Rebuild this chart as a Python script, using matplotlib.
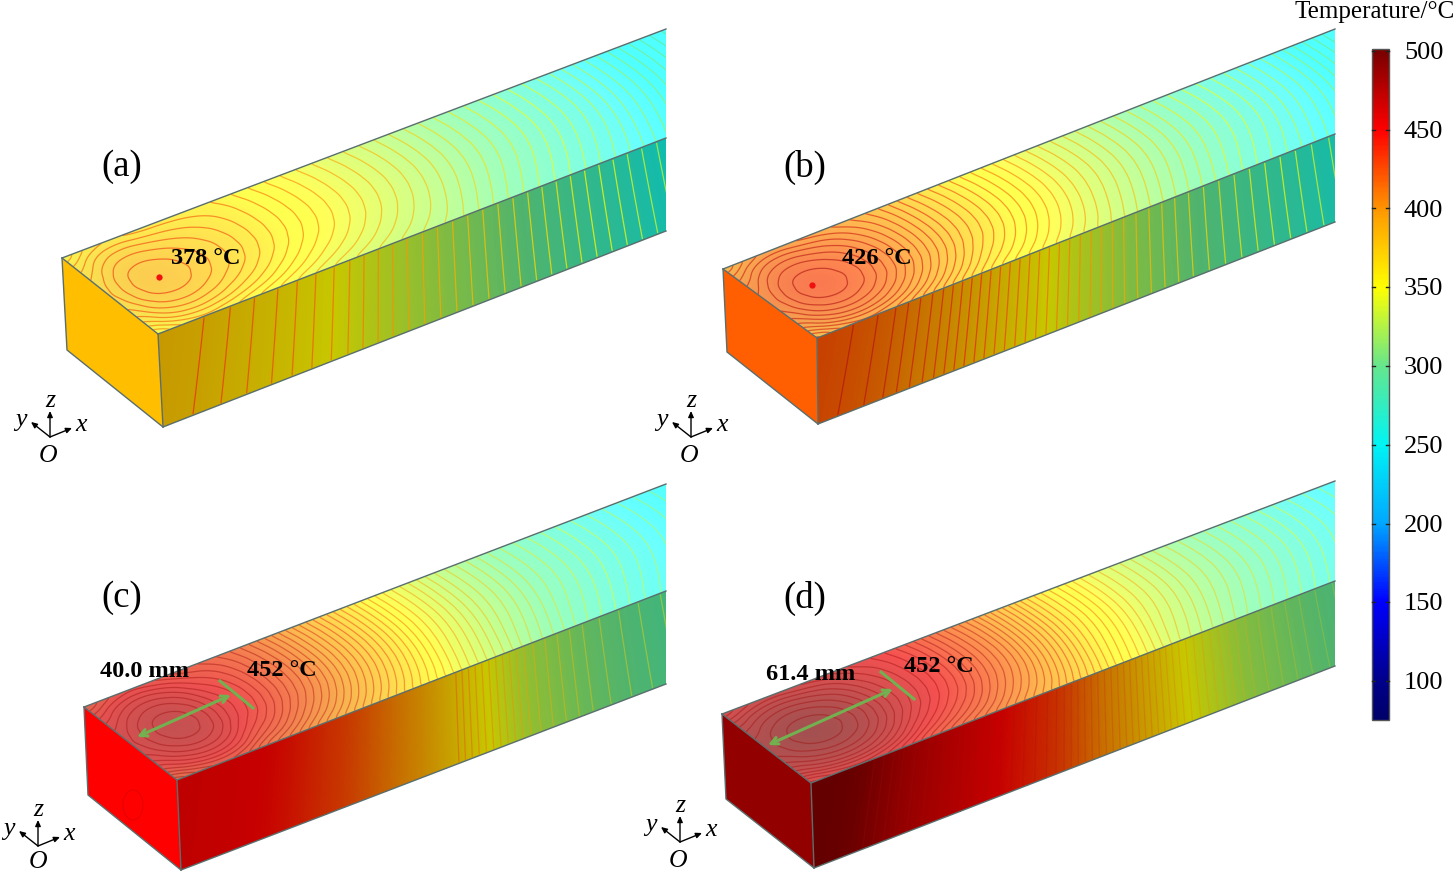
import numpy as np
import matplotlib
matplotlib.use("Agg")
import matplotlib.pyplot as plt
from matplotlib.colors import LinearSegmentedColormap, Normalize
from matplotlib.patches import Ellipse, Polygon, Rectangle

plt.rcParams["font.family"] = ["Liberation Serif", "DejaVu Serif"]

# colour scale of the legend bar
SCALE_T = [75, 100, 150, 200, 250, 300, 350, 400, 450, 500, 505]
SCALE_COLORS = ["#00006a", "#00008c", "#0000ff", "#00a8ff", "#00f4f4", "#66e68c",
                "#ffff00", "#ff9600", "#ff0000", "#7a0000", "#700000"]
LINE_COLORS = ["#00006a", "#00008c", "#0000ff", "#00a8ff", "#00f4f4", "#66e68c",
               "#ffff00", "#ff9600", "#e82010", "#a01010", "#a01010"]
BAR_TICKS = [100, 150, 200, 250, 300, 350, 400, 450, 500]

# temperature along the block centre line
U_STATIONS = [0, .04, .08, .12, .16, .2, .3, .4, .5, .6, .7, .8, .9, 1]
T_A = [364, 375, 378, 375.5, 371, 366, 351, 335, 319, 302, 286, 269, 248, 225]
T_B = [410, 422, 426, 423, 416, 406, 378, 354, 331, 311, 292, 275, 255, 230]
T_C = [458, 468, 472, 468, 456, 448, 420, 385, 350, 322, 300, 283, 268, 253]
T_D = [482, 490, 493, 490, 482, 470, 446, 412, 370, 338, 315, 296, 278, 262]

# temperature along the side face
SIDE_A = [378, 376, 374, 370, 366, 362, 349, 332, 316, 300, 283, 266, 250, 234]
SIDE_B = [422, 420, 416, 412, 404, 396, 370, 345, 322, 303, 287, 271, 257, 243]
SIDE_C = [455, 453, 452, 451, 449, 443, 424, 398, 360, 326, 307, 295, 285, 275]
SIDE_D = [497, 497, 495, 485, 475, 468, 452, 430, 393, 352, 322, 304, 290, 278]

# drop of excess temperature across the top face, back edge to front edge
V_STATIONS = [0, .125, .25, .375, .5, .625, .75, .875, 1]
BACK_DROP = [.055, .031, .014, .0034, 0, 0, 0, 0, 0]
FRONT_DROP_NEAR = [0, 0, 0, 0, 0, .0044, .0175, .039, .07]
FRONT_DROP_FAR = [0, 0, .001, .003, .007, .013, .021, .03, .04]
# how much of each drop applies along the block
FADE_U = [0, .12, .25, .3, .5, .6, 1]
BACK_FADE = [1, 1, .25, .22, .15, .12, .12]
NEAR_FADE = [1, 1, .6, .4, 0, 0, 0]
FAR_FADE = [0, 0, .7, 1, 1, 1, 1]
LEAN = [-.03, .03]
AMBIENT = 20

# block outlines in pixels: back left, front left, back right, front right at crop,
# bottom front, bottom right at crop, bottom left
CORNERS_A = [(62, 258), (158, 334), (666, 29), (666, 138), (163, 427), (666, 231), (67, 350)]
CORNERS_B = [(723, 269), (817, 338), (1335, 29), (1335, 134), (818, 424), (1335, 222), (727, 352)]
CORNERS_C = [(84, 707), (177, 780), (666, 484), (666, 591), (181, 870), (666, 684), (88, 795)]
CORNERS_D = [(722, 714), (811, 783), (1335, 481), (1335, 581), (814, 868), (1335, 666), (726, 799)]

FRONT_T = [380, 418, 450, 490]
LEVEL_STEP = [4, 4, 4, 4]
SIDE_LEVEL_MAX = [999, 999, 372, 999]
COLOR_BIAS = [6, 4, 0, 0]
TOP_GAIN_NEAR = [.66, .65, .57, .57]
TOP_LINE_ALPHA = [.6, .6, .45, .45]
SIDE_LINE_ALPHA = [.75, .7, .4, .22]

PANEL_LABELS = ["(a)", "(b)", "(c)", "(d)"]
PANEL_LABEL_POS = [(101, 167), (783, 167), (101, 598), (783, 598)]
NOTES = ["378 °C", "426 °C", "40.0 mm", "452 °C", "61.4 mm", "452 °C"]
NOTE_POS = [(171, 258), (842, 258), (100, 671), (247, 670), (766, 674), (904, 666)]
HOT_POINTS = [(159, 277), (812, 285)]

ARROWS = [((137, 737), (231, 695)), ((768, 745), (893, 689))]
BARS = [((220, 681), (253, 708)), ((881, 672), (914, 699))]

AXIS_ORIGINS = [(50, 437), (691, 437), (38, 846), (680, 842)]
AXIS_O_POS = [(48, 456), (689, 456), (38, 862), (678, 861)]

cmap = LinearSegmentedColormap.from_list(
    "temp", [((t - SCALE_T[0]) / (SCALE_T[-1] - SCALE_T[0]), c) for t, c in zip(SCALE_T, SCALE_COLORS)], N=512)
line_cmap = LinearSegmentedColormap.from_list(
    "temp_lines", [((t - SCALE_T[0]) / (SCALE_T[-1] - SCALE_T[0]), c) for t, c in zip(SCALE_T, LINE_COLORS)], N=512)
norm = Normalize(SCALE_T[0], SCALE_T[-1])
# contour lines take the colour about 70 degrees hotter than the surface
line_norm = Normalize(SCALE_T[0] - 70, SCALE_T[-1] - 70)

fig = plt.figure(figsize=(14.54, 8.72), dpi=100)
ax = fig.add_axes([0, 0, 1, 1])
ax.set_xlim(0, 1454)
ax.set_ylim(872, 0)
ax.axis("off")


def smooth_table(x, xp, fp, window=.04):
    # table lookup with a short moving average, so the contours have no kinks
    fine_x = np.linspace(xp[0], xp[-1], 1001)
    fine_y = np.interp(fine_x, xp, fp)
    n = int(window / (fine_x[1] - fine_x[0])) | 1
    pad = np.pad(fine_y, n // 2, mode="edge")
    smooth = np.convolve(pad, np.ones(n) / n, mode="valid")
    return np.interp(x, fine_x, smooth)


def draw_block(i, corners, temps, side_temps):
    p = np.array(corners, dtype=float)
    back_l, front_l, back_r, front_r, bot_f, bot_r, bot_l = p
    crop_x = back_r[0]

    # the block runs on past the crop, so extend the front edges to the same span
    span = back_r[0] - back_l[0]
    front_dir = (front_r - front_l) / (front_r[0] - front_l[0]) * span
    bot_dir = (bot_r - bot_f) / (bot_r[0] - bot_f[0]) * span
    back_dir = back_r - back_l

    clip = Rectangle((0, 0), crop_x, 872, transform=ax.transData)

    u_edge = np.linspace(0, 1, 641)
    v_edge = np.linspace(0, 1, 121)
    u_mid = (u_edge[:-1] + u_edge[1:]) / 2
    v_mid = (v_edge[:-1] + v_edge[1:]) / 2

    def top_xy(u, v):
        uu, vv = np.meshgrid(u, v)
        pts_back = back_l[:, None, None] + back_dir[:, None, None] * uu
        pts_front = front_l[:, None, None] + front_dir[:, None, None] * uu
        return pts_back * (1 - vv) + pts_front * vv

    def side_xy(u, w):
        uu, ww = np.meshgrid(u, w)
        pts_top = front_l[:, None, None] + front_dir[:, None, None] * uu
        pts_bot = bot_f[:, None, None] + bot_dir[:, None, None] * uu
        return pts_top * (1 - ww) + pts_bot * ww

    drop = (np.outer(smooth_table(v_mid, V_STATIONS, BACK_DROP, .08), smooth_table(u_mid, FADE_U, BACK_FADE))
            + np.outer(smooth_table(v_mid, V_STATIONS, FRONT_DROP_NEAR, .08), smooth_table(u_mid, FADE_U, NEAR_FADE))
            + np.outer(smooth_table(v_mid, V_STATIONS, FRONT_DROP_FAR, .08), smooth_table(u_mid, FADE_U, FAR_FADE)))
    tc = smooth_table(u_mid, U_STATIONS, temps)
    top_t = AMBIENT + (tc - AMBIENT) * (1 - drop)

    # top face is lit: washed out near the hot end, brighter further along
    gain = np.interp(u_mid, [0, 1], [TOP_GAIN_NEAR[i], .85])[None, :, None]
    top_rgb = np.clip(cmap(norm(top_t + COLOR_BIAS[i]))[..., :3] * gain + 80 / 255, 0, 1)
    x, y = top_xy(u_edge, v_edge)
    mesh = ax.pcolormesh(x, y, top_rgb, linewidth=0, zorder=2)
    mesh.set_clip_path(clip)

    levels = np.arange(temps[2] - 4, 150, -LEVEL_STEP[i])[::-1]
    x, y = top_xy(u_mid, v_mid)
    cs = ax.contour(x, y, top_t, levels=levels, cmap=line_cmap, norm=line_norm,
                    linewidths=.9, alpha=TOP_LINE_ALPHA[i], zorder=3)
    cs.set_clip_path(clip)

    # side face: lines lean one way near the hot end and the other way further on
    w_edge = np.linspace(0, 1, 41)
    w_mid = (w_edge[:-1] + w_edge[1:]) / 2
    edge_t = smooth_table(u_mid, U_STATIONS, side_temps)
    lean = np.interp(u_mid, [0, 1], LEAN)
    side_t = np.array([np.interp(u_mid - lean * w, u_mid, edge_t) for w in w_mid])
    side_rgb = cmap(norm(side_t))[..., :3] * .78
    x, y = side_xy(u_edge, w_edge)
    mesh = ax.pcolormesh(x, y, side_rgb, linewidth=0, zorder=2)
    mesh.set_clip_path(clip)
    x, y = side_xy(u_mid, w_mid)
    cs = ax.contour(x, y, side_t, levels=levels[levels < SIDE_LEVEL_MAX[i]], cmap=line_cmap, norm=line_norm,
                    linewidths=.9, alpha=SIDE_LINE_ALPHA[i], zorder=3)
    cs.set_clip_path(clip)

    # end face
    ax.add_patch(Polygon([back_l, front_l, bot_f, bot_l], closed=True,
                         facecolor=cmap(norm(FRONT_T[i])), edgecolor="none", zorder=2))

    edge = {"color": "#5a6e6e", "lw": 1.0, "zorder": 4}
    ax.plot([back_l[0], back_r[0]], [back_l[1], back_r[1]], **edge)
    ax.plot([front_l[0], front_r[0]], [front_l[1], front_r[1]], **edge)
    ax.plot([bot_f[0], bot_r[0]], [bot_f[1], bot_r[1]], **edge)
    ax.plot([back_l[0], front_l[0], bot_f[0]], [back_l[1], front_l[1], bot_f[1]], **edge)
    ax.plot([back_l[0], bot_l[0], bot_f[0]], [back_l[1], bot_l[1], bot_f[1]], **edge)


def draw_triad(origin, o_pos):
    ox, oy = origin
    tips = [(0, -26), (22, -9), (-19, -15)]
    names = [("z", 0, -36), ("x", 31, -12), ("y", -29, -17)]
    for dx, dy in tips:
        ax.annotate("", xy=(ox + dx, oy + dy), xytext=(ox, oy), zorder=5,
                    arrowprops=dict(arrowstyle="-|>,head_length=.35,head_width=.16",
                                    color="black", lw=1.0, shrinkA=0, shrinkB=0))
    for name, dx, dy in names:
        ax.text(ox + dx, oy + dy, name, fontsize=18.5, style="italic", ha="center", va="center")
    ax.text(o_pos[0], o_pos[1], "O", fontsize=18.5, style="italic", ha="center", va="center")


for i, (corners, temps, side_temps) in enumerate(zip([CORNERS_A, CORNERS_B, CORNERS_C, CORNERS_D],
                                                     [T_A, T_B, T_C, T_D],
                                                     [SIDE_A, SIDE_B, SIDE_C, SIDE_D])):
    draw_block(i, corners, temps, side_temps)
    draw_triad(AXIS_ORIGINS[i], AXIS_O_POS[i])
    ax.text(PANEL_LABEL_POS[i][0], PANEL_LABEL_POS[i][1], PANEL_LABELS[i], fontsize=26.5,
            ha="left", va="center")

# faint ring on the end face of (c)
ax.add_patch(Ellipse((133, 805), 20, 30, fill=False, edgecolor="#e00000", lw=.6, zorder=3))

for label, pos in zip(NOTES, NOTE_POS):
    ax.text(pos[0], pos[1], label, fontsize=17.5, fontweight="bold", ha="left", va="center", zorder=6)

for px, py in HOT_POINTS:
    ax.plot(px, py, "o", color="#f01010", ms=4.5, mew=0, zorder=6)

for (a, b), (c, d) in zip(ARROWS, BARS):
    ax.annotate("", xy=b, xytext=a, zorder=6,
                arrowprops=dict(arrowstyle="<->,head_length=.5,head_width=.25", color="#72b050",
                                lw=2.2, shrinkA=0, shrinkB=0))
    ax.plot([c[0], d[0]], [c[1], d[1]], color="#72b050", lw=2.2, zorder=6)

# legend bar, 79 px for 50 degrees
BAR_X = (1372, 1389)
BAR_Y = (49, 720)
t_to_y = lambda t: 681 - (np.asarray(t) - 100) * 630 / 400
bar_t = np.linspace(501, 75, 400)
bar_y = np.linspace(BAR_Y[0], BAR_Y[1], 401)
ax.pcolormesh(BAR_X, bar_y, bar_t[:, None], cmap=cmap, norm=norm, linewidth=0, zorder=2)
ax.add_patch(Rectangle((BAR_X[0], BAR_Y[0]), BAR_X[1] - BAR_X[0], BAR_Y[1] - BAR_Y[0],
                       fill=False, edgecolor="#555555", lw=1.0, zorder=3))
for t in BAR_TICKS:
    y = float(t_to_y(t))
    ax.plot([BAR_X[0], BAR_X[0] + 3], [y, y], color="#222222", lw=1, zorder=4)
    ax.plot([BAR_X[1] - 3, BAR_X[1]], [y, y], color="#222222", lw=1, zorder=4)
    ax.text(1404, y + 2, str(t), fontsize=19, ha="left", va="center")
ax.text(1455, 12, "Temperature/°C", fontsize=18, ha="right", va="center")

fig.savefig("out.png", dpi=100)
